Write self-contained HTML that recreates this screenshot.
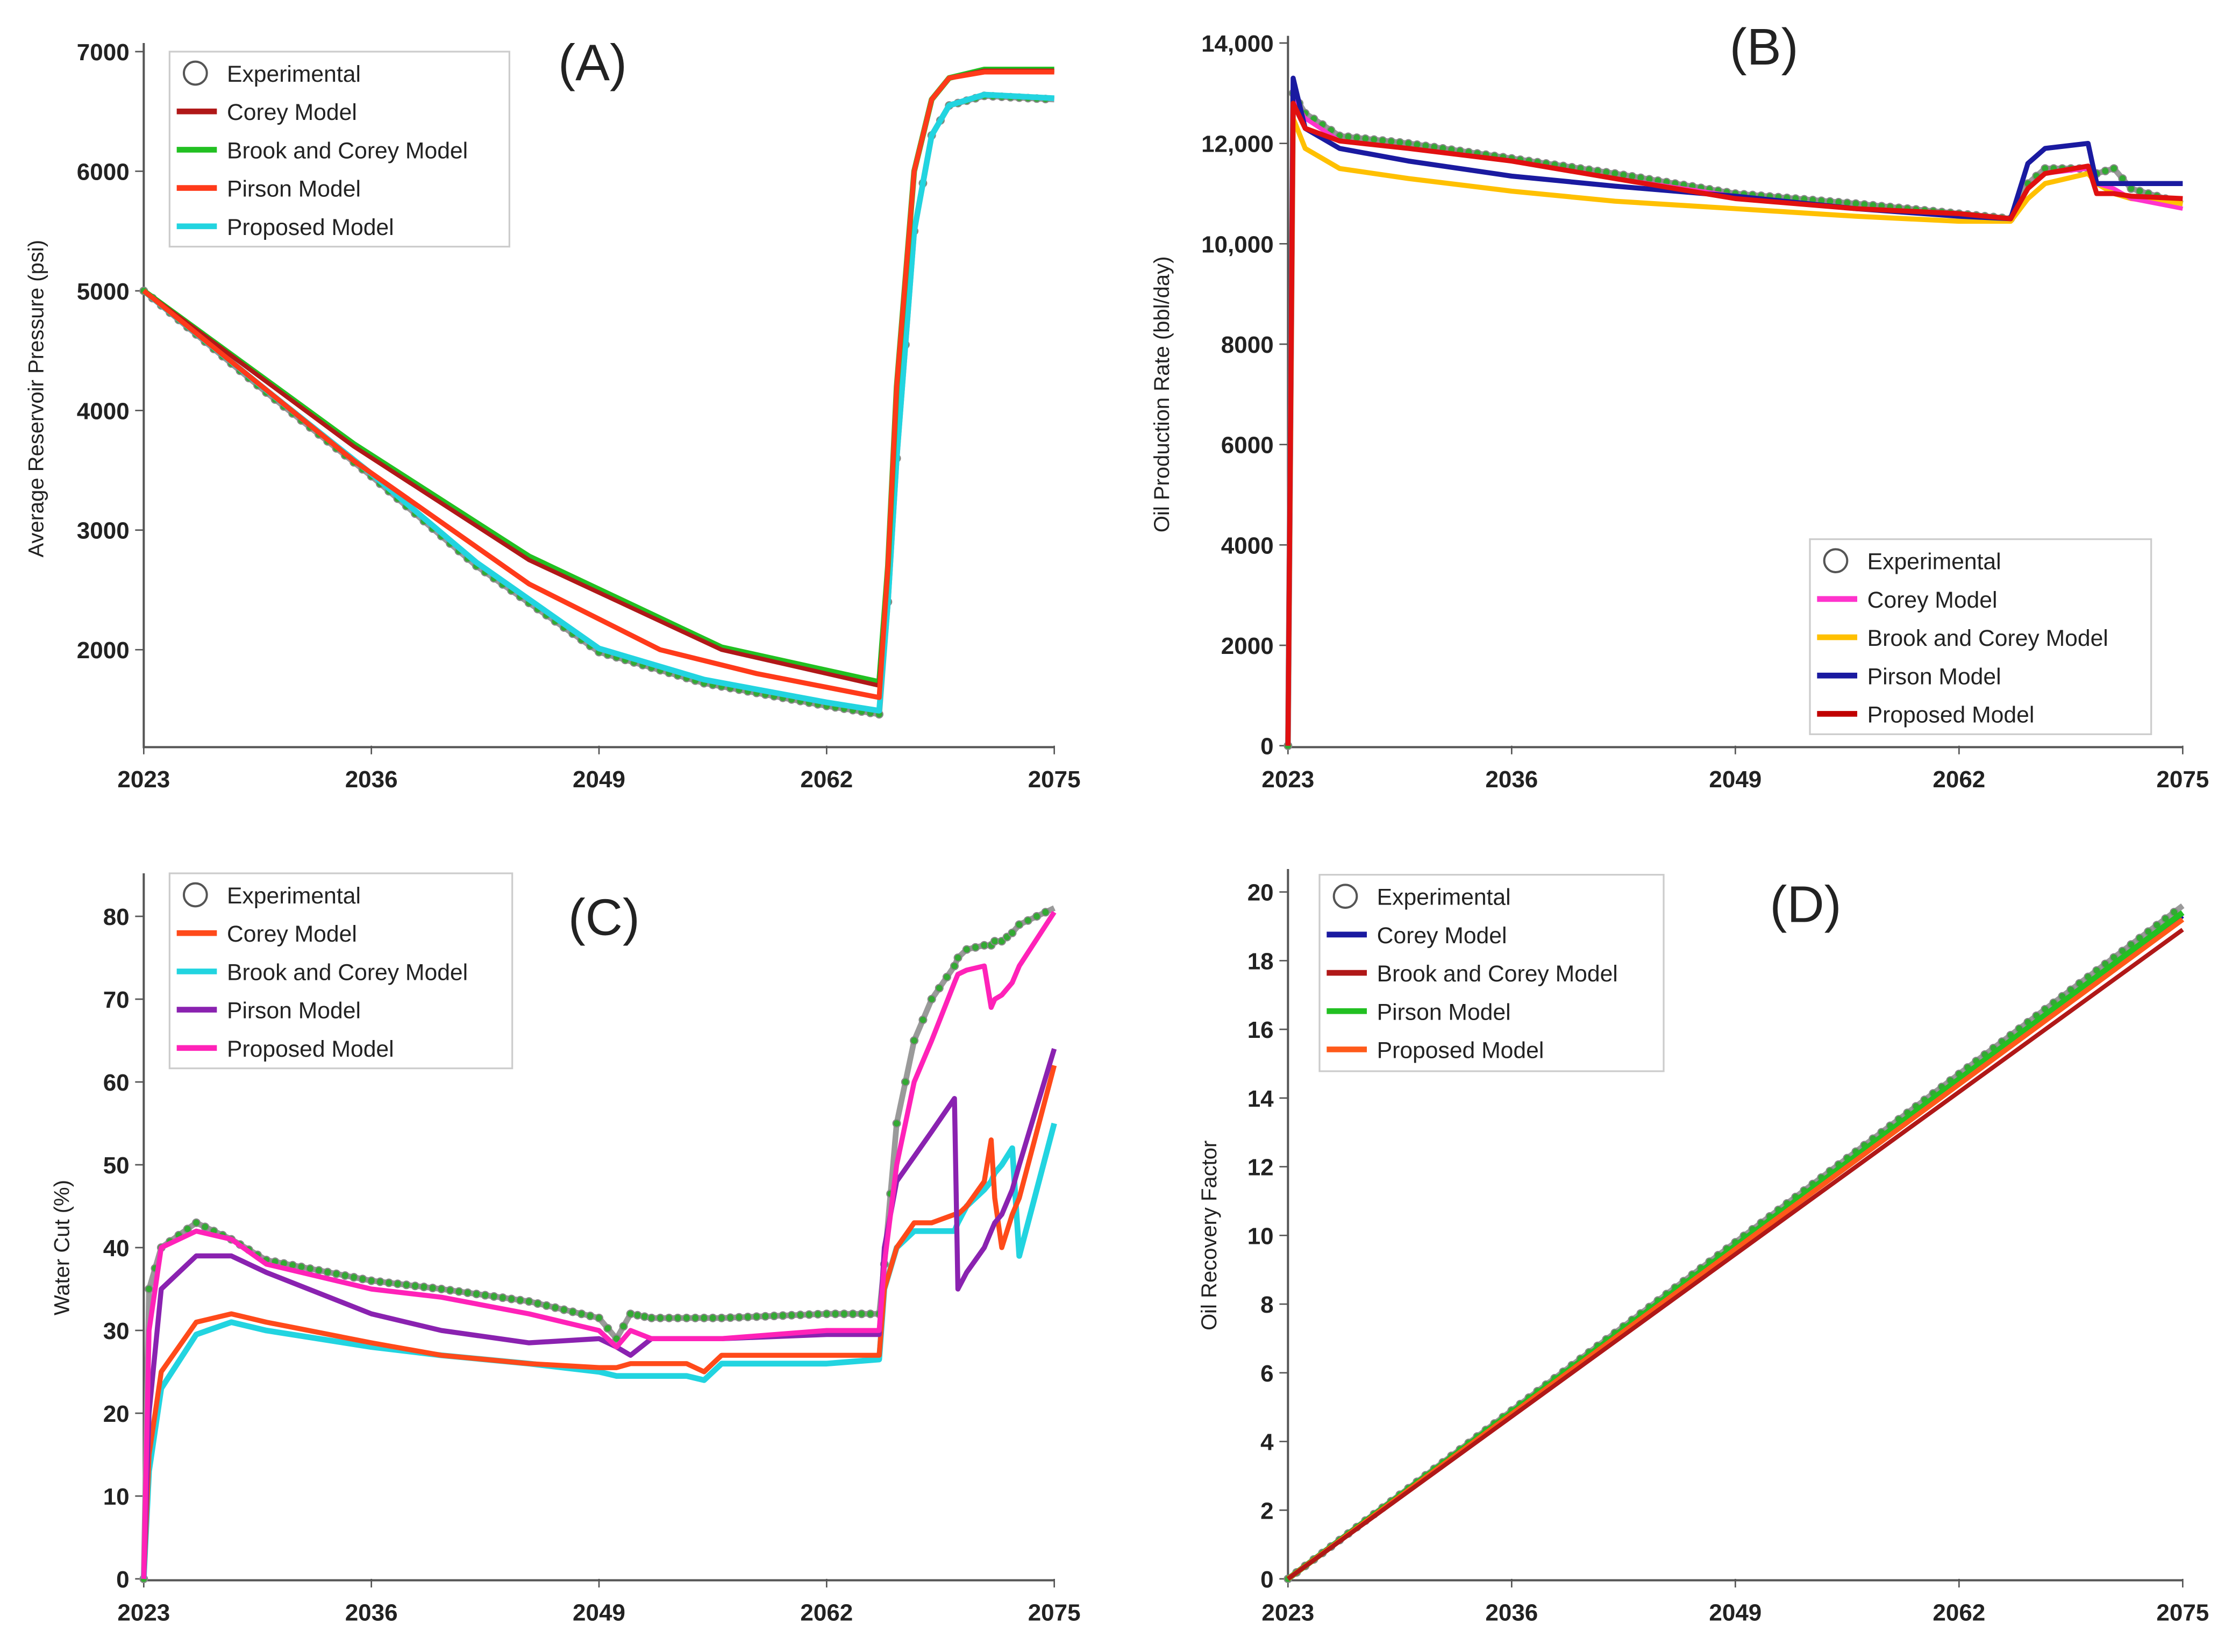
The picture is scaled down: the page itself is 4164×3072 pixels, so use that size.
<!DOCTYPE html>
<html><head><meta charset="utf-8"><style>
html,body{margin:0;padding:0;background:#fff}
svg{display:block}
text{font-family:"Liberation Sans",sans-serif;fill:#222}
</style></head><body>
<svg id="c" width="4164" height="3072" viewBox="0 0 1561 1152" xmlns="http://www.w3.org/2000/svg"></svg>
<script>
// ---------- DATA ----------
const xTicks=[2023,2036,2049,2062,2075];
// Panel A: pressure (psi)
const aYTicks=[2000,3000,4000,5000,6000,7000];
const aExpX=[2023,2030,2036,2042,2049,2055,2062,2065,2065.5,2066,2067,2068,2069,2071,2075];
const aExpY=[5000,4150,3450,2700,1980,1720,1530,1460,2400,3600,5500,6300,6550,6630,6600];
const aCyanX=aExpX, aCyanY=[5000,4170,3470,2730,2010,1750,1560,1490,2400,3600,5500,6300,6550,6640,6610];
const aCoreyX=[2023,2035,2045,2056,2065,2065.5,2066,2067,2068,2069,2071,2075];
const aCoreyY=[5000,3700,2750,2000,1700,2700,4200,6000,6600,6780,6840,6840];
const aGreenY=[5000,3720,2780,2020,1730,2700,4200,6000,6600,6780,6850,6850];
const aPirsonX=[2023,2035,2045,2052.5,2058,2065,2065.5,2066,2067,2068,2069,2071,2075];
const aPirsonY=[5000,3580,2550,2000,1800,1600,2700,4200,6000,6600,6780,6830,6830];
// Panel B: oil rate (bbl/day)
const bYTicks=[0,2000,4000,6000,8000,10000,12000,14000];
const bX=[2023,2023.3,2024,2026,2030,2036,2042,2049,2056,2062,2065,2066,2067,2069.5,2070,2071,2072,2075];
const bExp=[0,13000,12600,12150,12000,11700,11400,11000,10800,10600,10500,11200,11500,11500,11400,11500,11100,10800];
const bMagenta=[0,12900,12500,12050,11900,11650,11300,10950,10700,10550,10500,11100,11400,11500,11200,11100,10900,10700];
const bYellow=[0,12500,11900,11500,11300,11050,10850,10700,10550,10450,10450,10900,11200,11400,11200,11000,10900,10800];
const bBlue=[0,13300,12300,11900,11650,11350,11150,10950,10700,10550,10500,11600,11900,12000,11200,11200,11200,11200];
const bRed=[0,12800,12300,12050,11900,11650,11300,10900,10700,10600,10500,11100,11400,11550,11000,11000,10950,10900];
// Panel C: water cut (%)
const cX=[2023,2023.3,2024,2026,2028,2030,2036,2040,2045,2049,2050,2050.8,2052,2054,2055,2056,2062,2065,2065.3,2066,2067,2068,2069.3,2069.5,2070,2071,2071.4,2071.6,2072,2072.6,2073,2075];
const cExp=[0,35,40,43,41,38.5,36,35,33.5,31.5,29,32,31.5,31.5,31.5,31.5,32,32,38,55,65,70,74,75,76,76.5,76.5,77,77,78,79,81];
const cOrange=[0,15,25,31,32,31,28.5,27,26,25.5,25.5,26,26,26,25,27,27,27,35,40,43,43,44,44,45,48,53,46,40,44,46,62];
const cCyan=[0,13,23,29.5,31,30,28,27,26,25,24.5,24.5,24.5,24.5,24,26,26,26.5,35,40,42,42,42,43,45,47,48,49,50,52,39,55];
const cPurple=[0,20,35,39,39,37,32,30,28.5,29,28,27,29,29,29,29,29.5,29.5,40,48,51,54,58,35,37,40,42,43,44,47,50,64];
const cMagenta=[0,30,40,42,41,38,35,34,32,30,28,30,29,29,29,29,30,30,38,50,60,65,72,73,73.5,74,69,70,70.5,72,74,80.5];
// Panel D: recovery factor
const dYTicks=[0,2,4,6,8,10,12,14,16,18,20];
const dX=[2023,2075];
const dExp=[0,19.6], dBlue=[0,19.3], dRed=[0,18.9], dGreen=[0,19.4], dOrange=[0,19.2];

// ---------- DRAW ----------
const svg=document.getElementById('c');
const NS='http://www.w3.org/2000/svg';
function mk(tag,attrs,parent){const e=document.createElementNS(NS,tag);for(const k in attrs)e.setAttribute(k,attrs[k]);(parent||svg).appendChild(e);return e;}
function panel(name,x0,x1,yTop,yBot,vmin,vmax,yTicks,yfmt,axisTop,title,tx,ty,ylab,ylx){
  const g=mk('g',{});
  
  
  const sx=v=>x0+(v-2023)/(2075-2023)*(x1-x0);
  const sy=v=>yBot-(v-vmin)/(vmax-vmin)*(yBot-yTop);
  const ax=mk('path',{d:`M${x0},${axisTop}V${yBot+1}H${x1}`,stroke:'#555','stroke-width':1.5,fill:'none'},g);
  
  
  xTicks.forEach(t=>{
    mk('line',{x1:sx(t),x2:sx(t),y1:yBot,y2:yBot+6,stroke:'#555'},g);
    const tt=mk('text',{x:sx(t),y:yBot+29,'text-anchor':'middle','font-size':16.5,'font-weight':'bold'},g);
    tt.textContent=t;
    
    
  });
  yTicks.forEach(t=>{
    mk('line',{x1:x0-6,x2:x0,y1:sy(t),y2:sy(t),stroke:'#555'},g);
    const tt=mk('text',{x:x0-10,y:sy(t)+6,'text-anchor':'end','font-size':16.5,'font-weight':'bold'},g);
    tt.textContent=yfmt(t);
    
    
  });
  const ti=mk('text',{x:tx,y:ty,'text-anchor':'middle','font-size':36},g);
  ti.textContent=title;
  
  
  const yl=mk('text',{x:ylx,y:(yTop+yBot)/2,'text-anchor':'middle','font-size':15,transform:`rotate(-90 ${ylx} ${(yTop+yBot)/2})`},g);
  yl.textContent=ylab;
  
  
  return {g,sx,sy};
}
function line(p,xs,ys,color,w,name){
  const d=xs.map((x,i)=>(i?'L':'M')+p.sx(x).toFixed(1)+','+p.sy(ys[i]).toFixed(1)).join('');
  const e=mk('path',{d,stroke:color,'stroke-width':w,fill:'none','stroke-linejoin':'round'},p.g);
  
  
}
function exp(p,xs,ys,step){
  line(p,xs,ys,'#9a9a9a',4,'experimental-line');
  for(let i=0;i<xs.length-1;i++){
    const n=Math.max(1,Math.ceil((xs[i+1]-xs[i])/step));
    for(let k=0;k<n;k++){
      const f=k/n, x=xs[i]+(xs[i+1]-xs[i])*f, y=ys[i]+(ys[i+1]-ys[i])*f;
      const c=mk('circle',{cx:p.sx(x),cy:p.sy(y),r:2.6,fill:'#3a3',stroke:'#888','stroke-width':0.8},p.g);
      
      
    }
  }
}
function legend(p,x,y,w,h,items){
  const g=mk('g',{},p.g);
  
  
  mk('rect',{x,y,width:w,height:h,fill:'#fff',stroke:'#ccc','stroke-width':1.2},g);
  items.forEach((it,i)=>{
    const yy=y+15+i*26.7;
    if(it[1]==='o') mk('circle',{cx:x+18,cy:yy,r:8,fill:'none',stroke:'#555','stroke-width':1.5},g);
    else mk('line',{x1:x+5,x2:x+33,y1:yy,y2:yy,stroke:it[1],'stroke-width':4},g);
    const t=mk('text',{x:x+40,y:yy+6,'font-size':16},g);
    t.textContent=it[0];
    
    
  });
}
const comma=v=>v>=10000?v.toLocaleString('en-US'):String(v);
// A
const A=panel('a',100,735,36,520,1197.5,7000,aYTicks,String,30,'(A)',413,56,'Average Reservoir Pressure (psi)',30);
exp(A,aExpX,aExpY,0.5);
line(A,aCyanX,aCyanY,'#22d4e0',4,'proposed-model-line');
line(A,aCoreyX,aGreenY,'#22c022',4,'brook-corey-line');
line(A,aCoreyX,aCoreyY,'#b01818',3,'corey-model-line');
line(A,aPirsonX,aPirsonY,'#ff3a1a',3.5,'pirson-model-line');
legend(A,118,36,237,136,[['Experimental','o'],['Corey Model','#b01818'],['Brook and Corey Model','#22c022'],['Pirson Model','#ff3a1a'],['Proposed Model','#22d4e0']]);
// B
const B=panel('b',898,1522,30,520,0,14000,bYTicks,comma,25,'(B)',1230,45,'Oil Production Rate (bbl/day)',815);
exp(B,bX,bExp,0.5);
line(B,bX,bYellow,'#ffc000',3.5,'brook-corey-line');
line(B,bX,bMagenta,'#ff33cc',3,'corey-model-line');
line(B,bX,bBlue,'#1a1aa0',3.5,'pirson-model-line');
line(B,bX,bRed,'#e01010',3.5,'proposed-model-line');
legend(B,1262,376,238,136,[['Experimental','o'],['Corey Model','#ff33cc'],['Brook and Corey Model','#ffc000'],['Pirson Model','#1a1aa0'],['Proposed Model','#c00000']]);
// C
const C=panel('c',100,735,639,1101,0,80,[0,10,20,30,40,50,60,70,80],String,609,'(C)',421,652,'Water Cut (%)',48);
exp(C,cX,cExp,0.5);
line(C,cX,cCyan,'#22d4e0',4,'brook-corey-line');
line(C,cX,cOrange,'#ff4a1a',3.5,'corey-model-line');
line(C,cX,cPurple,'#8a22b0',3.5,'pirson-model-line');
line(C,cX,cMagenta,'#ff22b8',3.5,'proposed-model-line');
legend(C,118,609,239,136,[['Experimental','o'],['Corey Model','#ff4a1a'],['Brook and Corey Model','#22d4e0'],['Pirson Model','#8a22b0'],['Proposed Model','#ff22b8']]);
// D
const D=panel('d',898,1522,622,1101,0,20,dYTicks,String,606,'(D)',1259,643,'Oil Recovery Factor',848);
exp(D,dX,dExp,0.5);
line(D,dX,dBlue,'#1a1aa0',3,'corey-model-line');
line(D,dX,dGreen,'#22c022',4,'pirson-model-line');
line(D,dX,dOrange,'#ff5a1a',3.5,'proposed-model-line');
line(D,dX,dRed,'#b01818',3,'brook-corey-line');
legend(D,920,610,240,137,[['Experimental','o'],['Corey Model','#1a1aa0'],['Brook and Corey Model','#b01818'],['Pirson Model','#22c022'],['Proposed Model','#ff5a1a']]);
</script>
</body></html>
